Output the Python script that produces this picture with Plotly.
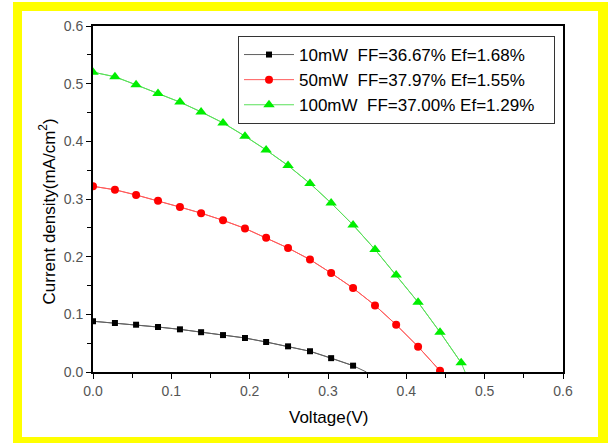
import plotly.graph_objects as go

# ---- data ----
voltage = [0.0, 0.028, 0.055, 0.083, 0.111, 0.138, 0.166, 0.194, 0.221,
           0.249, 0.277, 0.304, 0.332, 0.360, 0.387, 0.415, 0.443, 0.470]

j_10mw = [0.088, 0.085, 0.082, 0.078, 0.074, 0.069, 0.064, 0.059, 0.052,
          0.0445, 0.036, 0.024, 0.011]
j_50mw = [0.322, 0.316, 0.307, 0.297, 0.286, 0.2755, 0.263, 0.249, 0.233,
          0.215, 0.195, 0.1715, 0.1455, 0.1155, 0.082, 0.044, 0.002]
j_100mw = [0.520, 0.512, 0.498, 0.483, 0.468, 0.451, 0.432, 0.409, 0.385,
           0.358, 0.327, 0.293, 0.255, 0.2125, 0.168, 0.121, 0.069, 0.016]

# open-circuit voltage where each fitted curve meets J = 0
voc = [0.349, 0.448, 0.475]

names = ["10mW  FF=36.67% Ef=1.68%",
         "50mW  FF=37.97% Ef=1.55%",
         "100mW  FF=37.00% Ef=1.29%"]

series = [j_10mw, j_50mw, j_100mw]
marker_colors = ["#000000", "#ff0000", "#00ee00"]
line_colors = ["#606060", "#ff5a5a", "#5ae05a"]
symbols = ["square", "circle", "triangle-up"]
sizes = [6, 8, 10]

x_ticks = [0.0, 0.1, 0.2, 0.3, 0.4, 0.5, 0.6]
y_ticks = [0.0, 0.1, 0.2, 0.3, 0.4, 0.5, 0.6]

fig = go.Figure()

for j, v0, lc in zip(series, voc, line_colors):
    n = len(j)
    fig.add_trace(go.Scatter(
        x=voltage[:n] + [v0], y=j + [0.0], mode="lines",
        line=dict(color=lc, width=1), showlegend=False, hoverinfo="skip"))

pad = "\u00a0\u00a0\u00a0"
for j, name, mc, lc, sym, sz in zip(series, names, marker_colors,
                                     line_colors, symbols, sizes):
    n = len(j)
    fig.add_trace(go.Scatter(
        x=voltage[:n], y=j, mode="lines+markers", name=name + pad,
        line=dict(color=lc, width=1),
        marker=dict(color=mc, symbol=sym, size=sz, line=dict(width=0))))

L, R, T, B = 93, 563, 26, 372
W, H = 608, 443
pw, ph = R - L, B - T


def px(x):
    return (x - L) / pw


def py(y):
    return (B - y) / ph


shapes = [
    dict(type="rect", xref="paper", yref="paper", layer="below",
         x0=px(13), x1=px(608), y0=py(443), y1=py(2),
         fillcolor="#ffff00", line=dict(width=0)),
    dict(type="rect", xref="paper", yref="paper", layer="below",
         x0=px(22), x1=px(598), y0=py(437), y1=py(11),
         fillcolor="#ffffff", line=dict(width=0)),
]

axis_common = dict(
    range=[0, 0.6], showgrid=False, zeroline=False,
    showline=True, linecolor="black", linewidth=2, mirror=True,
    ticks="outside", ticklen=5, tickwidth=1, tickcolor="black",
    tickformat=".1f",
    tickfont=dict(family="Liberation Sans, Arial", size=14, color="#555555"),
    minor=dict(dtick=0.05, ticks="outside", ticklen=4, tickcolor="black",
               showgrid=False),
)

fig.update_layout(
    width=W, height=H,
    margin=dict(l=L, r=W - R, t=T, b=H - B, autoexpand=False),
    paper_bgcolor="white", plot_bgcolor="rgba(0,0,0,0)",
    shapes=shapes,
    xaxis=dict(axis_common, tickvals=x_ticks),
    yaxis=dict(axis_common, tickvals=y_ticks),
    font=dict(family="Liberation Sans, Arial", color="black"),
    legend=dict(x=px(238), y=py(36), xanchor="left", yanchor="top",
                bgcolor="white", bordercolor="#333333", borderwidth=1,
                font=dict(family="Liberation Sans, Arial", size=17,
                          color="black"),
                itemwidth=50, tracegroupgap=0),
    annotations=[
        dict(text="Voltage(V)", xref="paper", yref="paper",
             x=0.5, y=py(417), xanchor="center", yanchor="middle",
             showarrow=False, font=dict(size=17, color="black")),
        dict(text="Current density(mA/cm<sup>2</sup>)", xref="paper",
             yref="paper", x=px(47.5), y=py(212), textangle=-90,
             xanchor="center", yanchor="middle", showarrow=False,
             font=dict(size=17, color="black")),
    ],
)

fig.write_html(
    "out.html",
    config={"displayModeBar": False},
    post_script="document.body.style.margin='0';"
                "document.body.style.overflow='hidden';",
)
